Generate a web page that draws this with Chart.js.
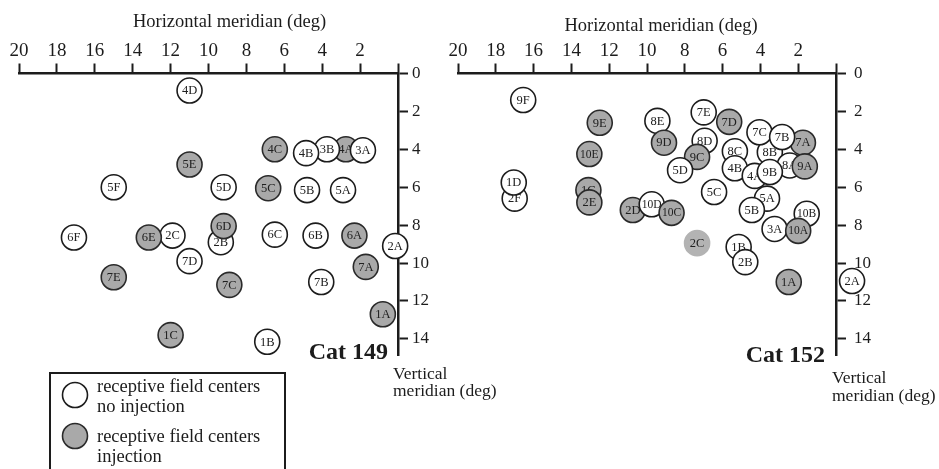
<!DOCTYPE html>
<html>
<head>
<meta charset="utf-8">
<script src="https://cdn.jsdelivr.net/npm/chart.js@4/dist/chart.umd.min.js"></script>
<style>
  html, body { margin: 0; padding: 0; background: #fff; }
  #wrap { position: relative; width: 939px; height: 469px; overflow: hidden; background: #fff; }
  canvas { position: absolute; top: 0; }
  #c149 { left: 0; }
  #c152 { left: 440px; }
</style>
</head>
<body>
<div id="wrap">
  <canvas id="c149" width="500" height="469"></canvas>
  <canvas id="c152" width="499" height="469"></canvas>
</div>
<script>
// Receptive field centres (degrees from the meridians).
// kind: 0 = no injection, 1 = injection, 2 = injection (faint, no outline)

const cat149Labels = ['4D','4C','4A','3B','4B','3A','5E','5F','5D','5C','5B','5A',
  '2B','6D','6F','2C','6E','6C','6B','6A','2A','7D','7E','7A','7C','7B','1A','1C','1B'];
const cat149X = [11.0, 6.5, 2.75, 3.75, 4.85, 1.85, 11.0, 15.0, 9.2, 6.85, 4.8, 2.9,
  9.35, 9.2, 17.1, 11.9, 13.15, 6.5, 4.35, 2.3, 0.15, 11.0, 15.0, 1.7, 8.9, 4.05, 0.8, 12.0, 6.9];
const cat149Y = [0.9, 4.0, 4.0, 4.0, 4.2, 4.05, 4.8, 6.0, 6.0, 6.05, 6.15, 6.15,
  8.9, 8.05, 8.65, 8.55, 8.65, 8.5, 8.55, 8.55, 9.1, 9.9, 10.75, 10.2, 11.15, 11.0, 12.7, 13.8, 14.15];
const cat149Kind = [0, 1, 1, 0, 0, 0, 1, 0, 0, 1, 0, 0,
  0, 1, 0, 0, 1, 0, 0, 1, 0, 0, 1, 1, 1, 0, 1, 1, 0];

const cat152Labels = ['9F','8E','9E','7E','7D','8B','7A','7C','7B','8D','9D','8C','9C','10E',
  '5D','4B','4A','8A','9B','9A','2F','1D','1C','2E','5C','5A','5B','2D','10D','10C',
  '10B','3A','10A','2C','1B','2B','1A','2A'];
const cat152X = [16.55, 9.45, 12.5, 7.0, 5.65, 3.5, 1.75, 4.05, 2.85, 6.95, 9.1, 5.35, 7.35, 13.05,
  8.25, 5.35, 4.3, 2.45, 3.5, 1.65, 17.0, 17.05, 13.1, 13.05, 6.45, 3.65, 4.45, 10.75, 9.75, 8.7,
  1.55, 3.25, 2.0, 7.35, 5.15, 4.8, 2.5, -0.85];
const cat152Y = [1.4, 2.5, 2.6, 2.05, 2.55, 4.15, 3.65, 3.1, 3.35, 3.55, 3.65, 4.1, 4.4, 4.25,
  5.1, 5.0, 5.4, 4.85, 5.2, 4.9, 6.6, 5.75, 6.15, 6.8, 6.25, 6.6, 7.2, 7.2, 6.9, 7.35,
  7.4, 8.2, 8.3, 8.95, 9.15, 9.95, 11.0, 10.95];
const cat152Kind = [0, 0, 1, 0, 1, 0, 1, 0, 0, 0, 1, 0, 1, 1,
  0, 0, 0, 0, 0, 1, 0, 0, 1, 1, 0, 0, 0, 1, 0, 1,
  0, 0, 1, 2, 0, 0, 1, 0];

const xTickValues = [20, 18, 16, 14, 12, 10, 8, 6, 4, 2, 0];
const xTickLabels = ['20', '18', '16', '14', '12', '10', '8', '6', '4', '2', ''];
const yTickValues = [0, 2, 4, 6, 8, 10, 12, 14];
const yTickLabels = ['0', '2', '4', '6', '8', '10', '12', '14'];

const SERIF = "'Liberation Serif', 'Times New Roman', Times, serif";
const INK = '#1c1c1c';
const FILL = ['#ffffff', '#a9a9a9', '#b3b3b3'];
const EDGE = ['#1c1c1c', '#2a2a2a', '#b3b3b3'];

// Draw each marker together with its tag so overlapping circles hide the tags beneath them.
const labelledPoints = {
  id: 'labelledPoints',
  beforeDatasetDraw(chart, args) {
    const ctx = chart.ctx;
    const tags = chart.data.datasets[args.index].tags;
    const whole = { left: 0, top: 0, right: chart.width, bottom: chart.height };
    ctx.save();
    args.meta.data.forEach((pt, i) => {
      pt.draw(ctx, whole);
      const t = tags[i];
      ctx.font = (t.length > 2 ? '11.5px ' : '12.5px ') + SERIF;
      ctx.fillStyle = '#202020';
      ctx.textAlign = 'center';
      ctx.textBaseline = 'middle';
      ctx.fillText(t, pt.x, pt.y + 0.5, 21);
    });
    ctx.restore();
    return false;
  }
};

// Free text: axis names, animal identifiers and the key.
const panelText = {
  id: 'panelText',
  afterDraw(chart, args, opts) {
    const ctx = chart.ctx;
    ctx.save();
    ctx.fillStyle = INK;
    ctx.textBaseline = 'alphabetic';
    (opts.items || []).forEach(t => {
      ctx.font = t.font;
      ctx.textAlign = t.align;
      ctx.fillText(t.text, t.x, t.y);
    });
    if (opts.legend) {
      const L = opts.legend;
      ctx.lineWidth = 2;
      ctx.strokeStyle = INK;
      ctx.strokeRect(L.x, L.y, L.w, L.h);
      L.rows.forEach(r => {
        ctx.beginPath();
        ctx.arc(L.x + 25, r.cy, 12.5, 0, Math.PI * 2);
        ctx.fillStyle = FILL[r.kind];
        ctx.fill();
        ctx.lineWidth = 1.6;
        ctx.strokeStyle = EDGE[r.kind];
        ctx.stroke();
        ctx.fillStyle = INK;
        ctx.font = '18.5px ' + SERIF;
        ctx.textAlign = 'left';
        r.lines.forEach((s, k) => ctx.fillText(s, L.x + 47, r.base + k * 19.5));
      });
    }
    ctx.restore();
  }
};

function makePanel(canvasId, tags, xs, ys, kinds, pad, yLabelPad, text) {
  const axisGrid = {
    display: true, drawOnChartArea: false, drawTicks: true,
    tickLength: 10, tickWidth: 2, tickColor: INK
  };
  const axisBorder = { display: true, width: 2.5, color: INK };
  return new Chart(document.getElementById(canvasId), {
    type: 'scatter',
    data: {
      datasets: [{
        tags: tags,
        data: xs.map((x, i) => ({ x: x, y: ys[i] })),
        backgroundColor: kinds.map(k => FILL[k]),
        borderColor: kinds.map(k => EDGE[k]),
        borderWidth: 1.6,
        pointRadius: 12.5,
        clip: false
      }]
    },
    options: {
      responsive: false,
      devicePixelRatio: 1,
      animation: false,
      events: [],
      layout: { padding: pad },
      plugins: {
        legend: { display: false },
        tooltip: { enabled: false },
        panelText: text
      },
      scales: {
        x: {
          type: 'linear', position: 'top', reverse: true, min: 0, max: 20,
          afterBuildTicks: s => { s.ticks = xTickValues.map(v => ({ value: v })); },
          afterFit: s => { s.height = 73.5; },
          ticks: {
            autoSkip: false, maxRotation: 0, padding: 1, color: INK,
            font: { family: SERIF, size: 19 },
            callback: v => xTickLabels[xTickValues.indexOf(v)]
          },
          grid: axisGrid, border: axisBorder
        },
        y: {
          type: 'linear', position: 'right', reverse: true, min: 0, max: 14.85,
          afterBuildTicks: s => { s.ticks = yTickValues.map(v => ({ value: v })); },
          afterFit: s => { s.width = 40; },
          ticks: {
            autoSkip: false, padding: yLabelPad, color: INK,
            font: { family: SERIF, size: 17 },
            callback: v => yTickLabels[yTickValues.indexOf(v)]
          },
          grid: axisGrid, border: axisBorder
        }
      }
    },
    plugins: [labelledPoints, panelText]
  });
}

makePanel('c149', cat149Labels, cat149X, cat149Y, cat149Kind,
  { left: 19, top: 0, right: 62, bottom: 114 }, 4,
  {
    items: [
      { text: 'Horizontal meridian (deg)', x: 229.5, y: 27, align: 'center', font: '18.5px ' + SERIF },
      { text: 'Cat 149', x: 388, y: 359, align: 'right', font: 'bold 24px ' + SERIF },
      { text: 'Vertical', x: 393, y: 379, align: 'left', font: '17.5px ' + SERIF },
      { text: 'meridian (deg)', x: 393, y: 396, align: 'left', font: '17.5px ' + SERIF }
    ],
    legend: {
      x: 50, y: 373, w: 235, h: 110,
      rows: [
        { kind: 0, cy: 395, base: 392, lines: ['receptive field centers', 'no injection'] },
        { kind: 1, cy: 436, base: 442, lines: ['receptive field centers', 'injection'] }
      ]
    }
  });

makePanel('c152', cat152Labels, cat152X, cat152Y, cat152Kind,
  { left: 18, top: 0, right: 63, bottom: 114 }, 8,
  {
    items: [
      { text: 'Horizontal meridian (deg)', x: 221, y: 31, align: 'center', font: '18.5px ' + SERIF },
      { text: 'Cat 152', x: 385, y: 362, align: 'right', font: 'bold 24px ' + SERIF },
      { text: 'Vertical', x: 392, y: 383, align: 'left', font: '17.5px ' + SERIF },
      { text: 'meridian (deg)', x: 392, y: 401, align: 'left', font: '17.5px ' + SERIF }
    ]
  });
</script>
</body>
</html>
